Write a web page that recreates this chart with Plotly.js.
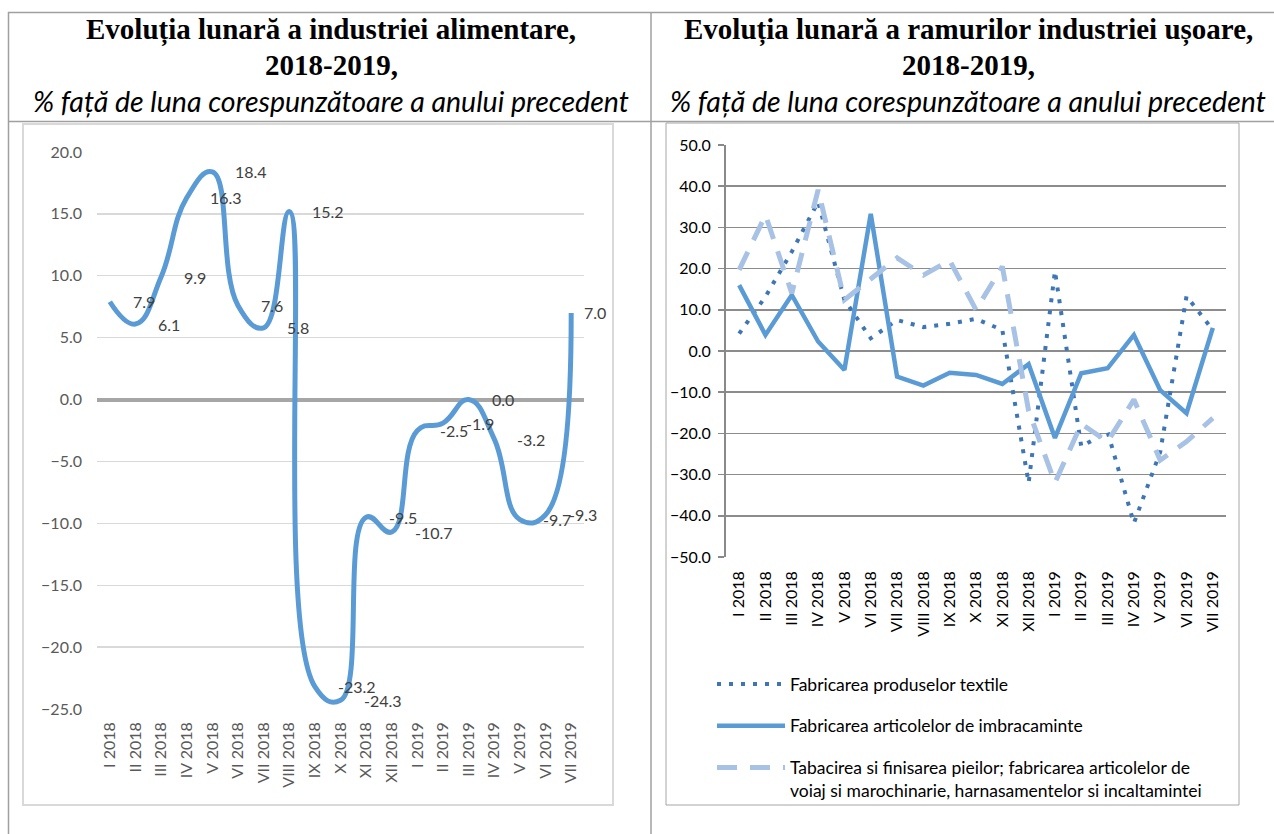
<!DOCTYPE html>
<html>
<head>
<meta charset="utf-8">
<script src="https://cdn.plot.ly/plotly-3.0.1.min.js"></script>
<style>
html,body{margin:0;padding:0;background:#fff;}
#chart{width:1274px;height:834px;}
</style>
</head>
<body>
<div id="chart"></div>
<script>
// ---- data ----
const categories = ['I 2018','II 2018','III 2018','IV 2018','V 2018','VI 2018','VII 2018','VIII 2018','IX 2018','X 2018','XI 2018','XII 2018','I 2019','II 2019','III 2019','IV 2019','V 2019','VI 2019','VII 2019'];
const foodIndustry = [7.9, 6.1, 9.9, 16.3, 18.4, 7.6, 5.8, 15.2, -23.2, -24.3, -9.5, -10.7, -2.5, -1.9, 0.0, -3.2, -9.7, -9.3, 7.0];
const textiles = [4.2, 13.2, 24.1, 36.2, 12.4, 3.1, 7.5, 5.8, 6.6, 7.8, 5.1, -32.0, 19.4, -23.2, -19.6, -41.8, -24.5, 13.3, 5.1];
const clothing = [16.0, 3.9, 13.6, 2.3, -4.6, 33.3, -6.2, -8.4, -5.3, -5.8, -8.0, -3.2, -21.1, -5.4, -4.2, 3.9, -9.5, -15.1, 5.6];
const leather = [19.7, 33.0, 14.0, 39.1, 12.4, 17.5, 22.6, 18.4, 22.0, 10.0, 20.5, -14.5, -32.0, -17.7, -22.0, -11.8, -26.5, -22.0, -16.3];

const seriesNames = [
  'Fabricarea produselor textile',
  'Fabricarea articolelor de imbracaminte',
  'Tabacirea si finisarea pieilor; fabricarea articolelor de<br>voiaj si marochinarie, harnasamentelor si incaltamintei'
];
const titleLeft = ['Evoluția lunară a industriei alimentare,', '2018-2019,', '% față de luna corespunzătoare a anului precedent'];
const titleRight = ['Evoluția lunară a ramurilor industriei ușoare,', '2018-2019,', '% față de luna corespunzătoare a anului precedent'];

// ---- geometry helpers (page pixels -> paper fractions) ----
const W = 1274, H = 834;
const PX = p => p / W;
const PY = p => 1 - p / H;

const sans = 'Lato, "Open Sans", sans-serif';
const serif = '"Liberation Serif", "Times New Roman", serif';

const leftX0 = 97, leftX1 = 584, leftBoxRight = 606;
const catW = (leftX1 - leftX0) / categories.length;

const traces = [
  {
    x: categories, y: foodIndustry, type: 'scatter', mode: 'lines',
    line: {color: '#5B9BD5', width: 5, shape: 'spline', smoothing: 1.3},
    xaxis: 'x', yaxis: 'y', showlegend: false, hoverinfo: 'skip'
  },
  {
    x: categories, y: textiles, type: 'scatter', mode: 'lines', name: seriesNames[0],
    line: {color: '#3E76B5', width: 4, dash: '4px,8px'},
    xaxis: 'x2', yaxis: 'y2', legendgroup: 'a'
  },
  {
    x: categories, y: clothing, type: 'scatter', mode: 'lines', name: seriesNames[1],
    line: {color: '#5B9BD5', width: 4.5},
    xaxis: 'x2', yaxis: 'y2', legendgroup: 'b'
  },
  {
    x: categories, y: leather, type: 'scatter', mode: 'lines', name: seriesNames[2],
    line: {color: '#A7C2E4', width: 5, dash: '20px,13px'},
    xaxis: 'x2', yaxis: 'y2', legendgroup: 'c'
  }
];

// data labels, placed to the right of each point, kept inside the chart box
const labelAnnotations = foodIndustry.map((v, i) => {
  const txt = v.toFixed(1);
  const px = leftX0 + catW * (i + 0.5);
  const wEst = txt.length * 7.9;
  const shift = Math.min(21, leftBoxRight - px - wEst);
  return {
    x: categories[i], y: v, xref: 'x', yref: 'y',
    text: txt, showarrow: false, xanchor: 'left', yanchor: 'middle', xshift: shift,
    font: {family: sans, size: 16, color: '#404040'}
  };
});

function titleAnn(lines, cx) {
  return [
    {x: PX(cx), y: PY(30), text: '<b>' + lines[0] + '</b>', font: {family: serif, size: 29, color: '#000'}},
    {x: PX(cx), y: PY(65), text: '<b>' + lines[1] + '</b>', font: {family: serif, size: 29, color: '#000'}},
    {x: PX(cx), y: PY(101), text: '<i>' + lines[2] + '</i>', font: {family: sans, size: 28.5, color: '#000'}}
  ].map(a => Object.assign(a, {xref: 'paper', yref: 'paper', showarrow: false, xanchor: 'center', yanchor: 'middle'}));
}

const shapes = [
  // table lines
  {type: 'line', x0: PX(8), x1: PX(1274), y0: PY(12.5), y1: PY(12.5), line: {color: '#A0A0A0', width: 1.5}},
  {type: 'line', x0: PX(8), x1: PX(1274), y0: PY(121.5), y1: PY(121.5), line: {color: '#A0A0A0', width: 1.5}},
  {type: 'line', x0: PX(8.5), x1: PX(8.5), y0: PY(12), y1: PY(834), line: {color: '#A0A0A0', width: 1.5}},
  {type: 'line', x0: PX(651), x1: PX(651), y0: PY(12), y1: PY(834), line: {color: '#A0A0A0', width: 1.5}},
  // chart boxes
  {type: 'rect', x0: PX(23), x1: PX(613), y0: PY(124), y1: PY(805), line: {color: '#D9D9D9', width: 2}},
  {type: 'rect', x0: PX(666), x1: PX(1239), y0: PY(123), y1: PY(805), line: {color: '#A6A6A6', width: 1}}
].map(s => Object.assign(s, {xref: 'paper', yref: 'paper', layer: 'below'}));

const boundaries = categories.map((c, i) => i - 0.5).concat([categories.length - 0.5]);

const layout = {
  width: W, height: H,
  margin: {l: 0, r: 0, t: 0, b: 0},
  paper_bgcolor: '#fff', plot_bgcolor: 'rgba(0,0,0,0)',
  showlegend: true,
  xaxis: {
    domain: [PX(leftX0), PX(leftX1)], anchor: 'y', type: 'category',
    range: [-0.5, categories.length - 0.5],
    showgrid: false, zeroline: false, showline: false, ticks: '',
    tickangle: -90, ticklabelstandoff: 9,
    tickfont: {family: sans, size: 16, color: '#595959'}, fixedrange: true
  },
  yaxis: {
    domain: [PY(709), PY(152)], anchor: 'x', range: [-25, 20], dtick: 5, tickformat: '.1f',
    showgrid: true, gridcolor: '#D9D9D9', gridwidth: 1.3,
    zeroline: true, zerolinecolor: '#A6A6A6', zerolinewidth: 4,
    showline: false, ticks: '', ticklabelstandoff: 14,
    tickfont: {family: sans, size: 16, color: '#595959'}, fixedrange: true
  },
  xaxis2: {
    domain: [PX(726), PX(1226)], anchor: 'y2', type: 'category',
    range: [-0.5, categories.length - 0.5],
    showgrid: false, zeroline: false, showline: false, ticks: '',
    tickangle: -90, ticklabelstandoff: 10,
    tickfont: {family: sans, size: 16, color: '#000'}, fixedrange: true
  },
  xaxis3: {
    overlaying: 'x2', anchor: 'free', position: PY(351), side: 'bottom',
    type: 'linear', range: [-0.5, categories.length - 0.5],
    tickmode: 'array', tickvals: boundaries, showticklabels: false,
    ticks: 'outside', ticklen: 6, tickwidth: 2, tickcolor: '#898989',
    showline: true, linecolor: '#898989', linewidth: 3,
    showgrid: false, zeroline: false, fixedrange: true
  },
  yaxis2: {
    domain: [PY(557), PY(145)], anchor: 'x2', range: [-50, 50], dtick: 10, tickformat: '.1f',
    showgrid: true, gridcolor: '#8C8C8C', gridwidth: 1.5, zeroline: false,
    showline: true, linecolor: '#898989', linewidth: 2,
    ticks: 'outside', ticklen: 6, tickwidth: 1.5, tickcolor: '#898989', ticklabelstandoff: 4,
    tickfont: {family: sans, size: 16, color: '#000'}, fixedrange: true
  },
  legend: {
    x: PX(712), y: PY(666), xanchor: 'left', yanchor: 'top',
    bgcolor: 'rgba(0,0,0,0)', borderwidth: 0,
    font: {family: sans, size: 17.5, color: '#000'},
    itemwidth: 68, tracegroupgap: 16, valign: 'top', traceorder: 'grouped'
  },
  shapes: shapes,
  annotations: labelAnnotations.concat(titleAnn(titleLeft, 331), titleAnn(titleRight, 968))
};

Plotly.newPlot('chart', traces, layout, {displayModeBar: false, staticPlot: true});
</script>
</body>
</html>
